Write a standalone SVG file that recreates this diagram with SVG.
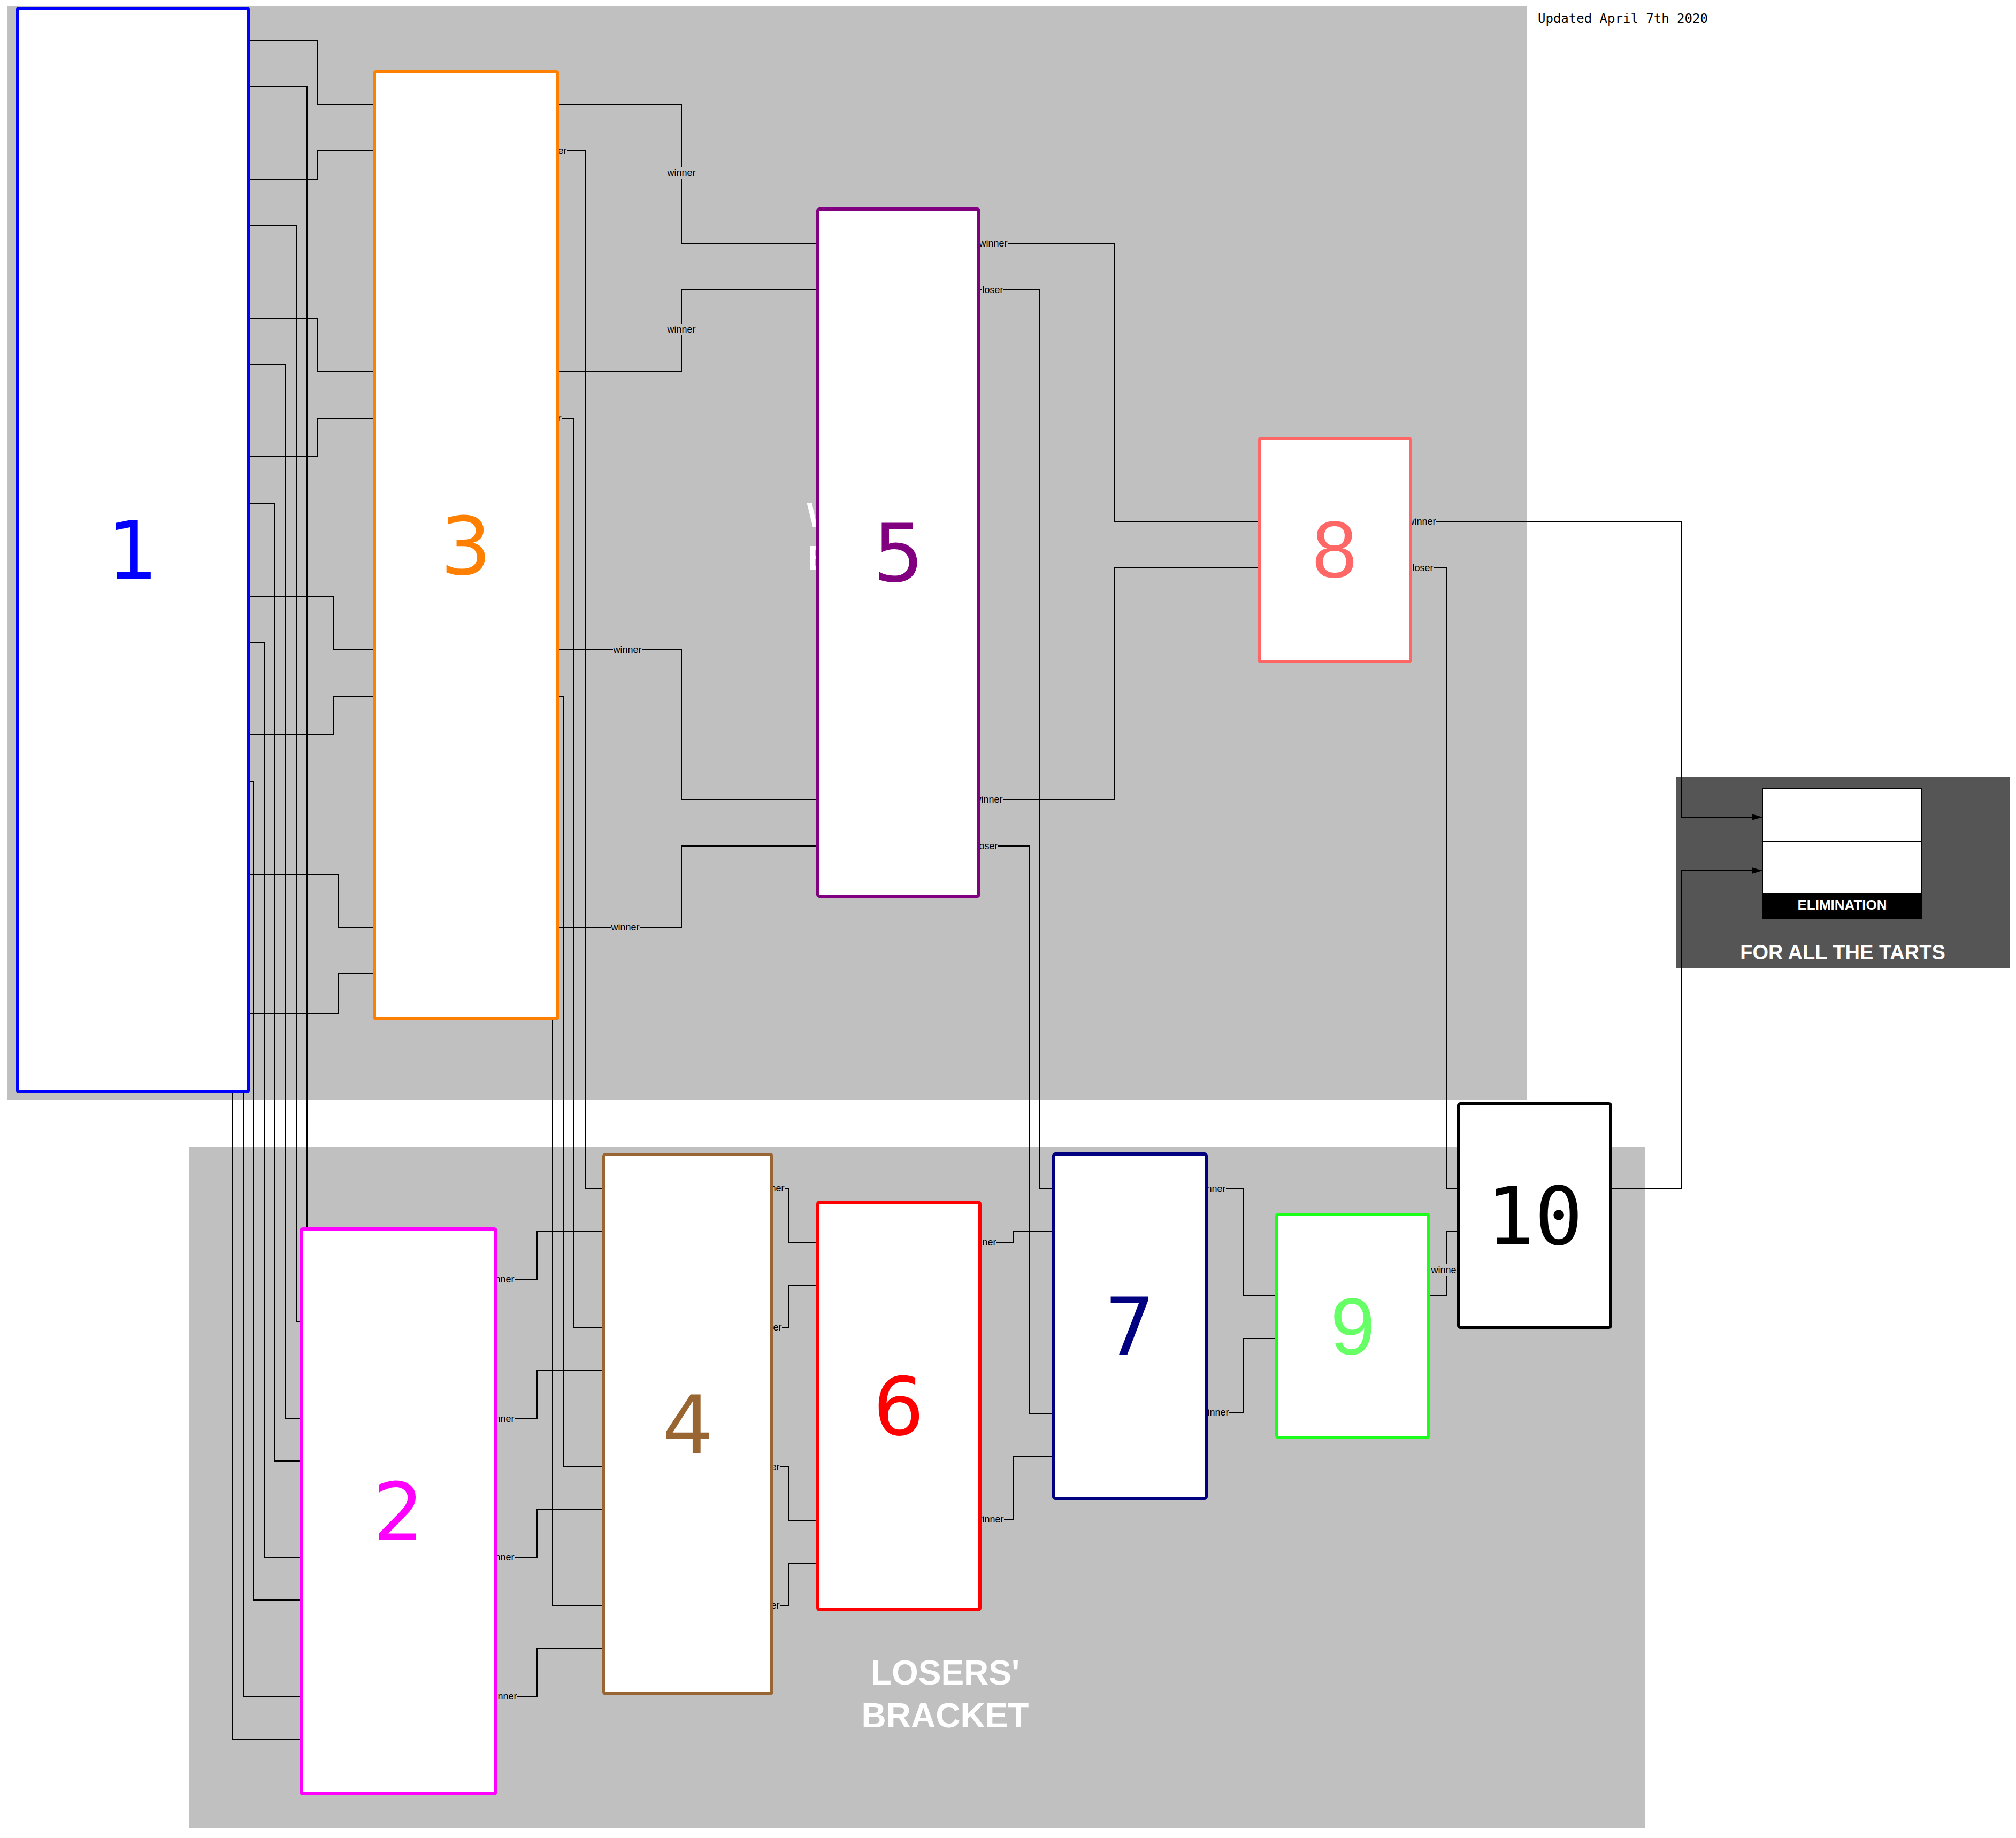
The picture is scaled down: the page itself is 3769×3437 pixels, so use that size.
<svg xmlns="http://www.w3.org/2000/svg" width="3769" height="3437" viewBox="0 0 3769 3437">
<defs>
<style>
.bg{fill:#C0C0C0}
.conn{fill:none;stroke:#000;stroke-width:2}
.lbl{font-family:"Liberation Sans",Arial,sans-serif;font-size:18px;fill:#000;text-anchor:middle}
.lbg{fill:#C0C0C0}
.node{fill:#fff;stroke-width:6}
.num{font-family:"DejaVu Sans",sans-serif;font-size:150px;text-anchor:middle}
.big{font-family:"Liberation Sans",Arial,sans-serif;font-weight:bold;font-size:64px;fill:#fff;text-anchor:middle}
</style>
<marker id="arr" markerUnits="userSpaceOnUse" markerWidth="20" markerHeight="14" refX="20" refY="7" orient="auto">
<path d="M0,1 L20,7 L0,13 Z" fill="#000"/>
</marker>
</defs>
<rect width="3769" height="3437" fill="#fff"/>
<g id="backgrounds">
<rect class="bg" x="14" y="11" width="2841" height="2046"/>
<rect class="bg" x="353" y="2145" width="2722" height="1274"/>
<rect x="3133" y="1453" width="624" height="358" fill="#555555"/>
</g>
<g id="section-titles">
<text class="big" x="1667" y="985">WINNERS'</text>
<text class="big" x="1667" y="1066">BRACKET</text>
<text class="big" x="1767" y="3150">LOSERS'</text>
<text class="big" x="1767" y="3230">BRACKET</text>
</g>
<g id="connectors">
<path class="conn" d="M465,75 H594 V195 H700"/>
<path class="conn" d="M465,335 H594 V282 H700"/>
<path class="conn" d="M465,595 H594 V695 H700"/>
<path class="conn" d="M465,854 H594 V782 H700"/>
<path class="conn" d="M465,1115 H624 V1215 H700"/>
<path class="conn" d="M465,1374 H624 V1302 H700"/>
<path class="conn" d="M465,1635 H633 V1735 H700"/>
<path class="conn" d="M465,1895 H633 V1821 H700"/>
<path class="conn" d="M465,161 H574 V2392 H563"/>
<path class="conn" d="M465,422 H554 V2472 H563"/>
<path class="conn" d="M465,682 H534 V2653 H563"/>
<path class="conn" d="M465,941 H514 V2732 H563"/>
<path class="conn" d="M465,1202 H495 V2912 H563"/>
<path class="conn" d="M465,1462 H474 V2992 H563"/>
<path class="conn" d="M465,1722 H455 V3172 H563"/>
<path class="conn" d="M465,1982 H434 V3252 H563"/>
<path class="conn" d="M1043,195 H1274 V455 H1529"/>
<path class="conn" d="M1043,695 H1274 V542 H1529"/>
<path class="conn" d="M1043,1215 H1274 V1495 H1529"/>
<path class="conn" d="M1043,1735 H1274 V1582 H1529"/>
<path class="conn" d="M1043,282 H1094 V2222 H1129"/>
<path class="conn" d="M1043,782 H1073 V2482 H1129"/>
<path class="conn" d="M1043,1302 H1054 V2742 H1129"/>
<path class="conn" d="M1043,1821 H1033 V3002 H1129"/>
<path class="conn" d="M927,2392 H1004 V2303 H1129"/>
<path class="conn" d="M927,2653 H1004 V2563 H1129"/>
<path class="conn" d="M927,2912 H1004 V2823 H1129"/>
<path class="conn" d="M927,3172 H1004 V3083 H1129"/>
<path class="conn" d="M1443,2222 H1474 V2323 H1529"/>
<path class="conn" d="M1443,2482 H1474 V2404 H1529"/>
<path class="conn" d="M1443,2743 H1474 V2843 H1529"/>
<path class="conn" d="M1443,3002 H1474 V2923 H1529"/>
<path class="conn" d="M1830,455 H2084 V975 H2354"/>
<path class="conn" d="M1830,1495 H2084 V1062 H2354"/>
<path class="conn" d="M1830,542 H1944 V2222 H1970"/>
<path class="conn" d="M1830,1582 H1924 V2643 H1970"/>
<path class="conn" d="M1832,2323 H1894 V2303 H1970"/>
<path class="conn" d="M1832,2841 H1894 V2723 H1970"/>
<path class="conn" d="M2255,2223 H2324 V2423 H2387"/>
<path class="conn" d="M2255,2641 H2324 V2503 H2387"/>
<path class="conn" d="M2637,1062 H2704 V2223 H2727"/>
<path class="conn" d="M2671,2423 H2704 V2303 H2727"/>
<path class="conn" d="M2637,975 H3144 V1528 H3295" marker-end="url(#arr)"/>
<path class="conn" d="M3011,2223 H3144 V1628 H3295" marker-end="url(#arr)"/>
</g>
<g id="connector-labels">
<rect class="lbg" x="1247" y="312" width="54" height="22"/><text class="lbl" x="1274" y="329">winner</text>
<rect class="lbg" x="1247" y="605" width="54" height="22"/><text class="lbl" x="1274" y="622">winner</text>
<rect class="lbg" x="1146" y="1204" width="54" height="22"/><text class="lbl" x="1173" y="1221">winner</text>
<rect class="lbg" x="1142" y="1724" width="54" height="22"/><text class="lbl" x="1169" y="1740">winner</text>
<rect class="lbg" x="1020" y="271" width="40" height="22"/><text class="lbl" x="1040" y="288">loser</text>
<rect class="lbg" x="1010" y="771" width="40" height="22"/><text class="lbl" x="1030" y="788">loser</text>
<rect class="lbg" x="908" y="2381" width="54" height="22"/><text class="lbl" x="935" y="2398">winner</text>
<rect class="lbg" x="908" y="2642" width="54" height="22"/><text class="lbl" x="935" y="2659">winner</text>
<rect class="lbg" x="908" y="2901" width="54" height="22"/><text class="lbl" x="935" y="2918">winner</text>
<rect class="lbg" x="913" y="3161" width="54" height="22"/><text class="lbl" x="940" y="3178">winner</text>
<rect class="lbg" x="1413" y="2211" width="54" height="22"/><text class="lbl" x="1440" y="2228">winner</text>
<rect class="lbg" x="1408" y="2471" width="54" height="22"/><text class="lbl" x="1435" y="2488">winner</text>
<rect class="lbg" x="1404" y="2732" width="54" height="22"/><text class="lbl" x="1431" y="2749">winner</text>
<rect class="lbg" x="1404" y="2991" width="54" height="22"/><text class="lbl" x="1431" y="3008">winner</text>
<rect class="lbg" x="1830" y="444" width="54" height="22"/><text class="lbl" x="1857" y="461">winner</text>
<rect class="lbg" x="1836" y="531" width="40" height="22"/><text class="lbl" x="1856" y="548">loser</text>
<rect class="lbg" x="1821" y="1484" width="54" height="22"/><text class="lbl" x="1848" y="1501">winner</text>
<rect class="lbg" x="1826" y="1571" width="40" height="22"/><text class="lbl" x="1846" y="1588">loser</text>
<rect class="lbg" x="1809" y="2312" width="54" height="22"/><text class="lbl" x="1836" y="2329">winner</text>
<rect class="lbg" x="1823" y="2830" width="54" height="22"/><text class="lbl" x="1850" y="2847">winner</text>
<rect class="lbg" x="2238" y="2212" width="54" height="22"/><text class="lbl" x="2265" y="2229">winner</text>
<rect class="lbg" x="2244" y="2630" width="54" height="22"/><text class="lbl" x="2271" y="2647">winner</text>
<rect class="lbg" x="2631" y="964" width="54" height="22"/><text class="lbl" x="2658" y="981">winner</text>
<rect class="lbg" x="2640" y="1051" width="40" height="22"/><text class="lbl" x="2660" y="1068">loser</text>
<rect class="lbg" x="2675" y="2364" width="54" height="22"/><text class="lbl" x="2702" y="2381">winner</text>
</g>
<g id="node-1"><rect class="node" x="32" y="16" width="433" height="2025" rx="3" stroke="#0000FF"/><text class="num" x="248" y="1082" fill="#0000FF">1</text></g>
<g id="node-3"><rect class="node" x="700" y="134" width="343" height="1771" rx="3" stroke="#FF8000"/><text class="num" x="871" y="1074" fill="#FF8000">3</text></g>
<g id="node-5"><rect class="node" x="1529" y="391" width="301" height="1285" rx="3" stroke="#800080"/><text class="num" x="1680" y="1087" fill="#800080">5</text></g>
<g id="node-8"><rect class="node" x="2354" y="820" width="283" height="417" rx="3" stroke="#FF6666"/><text class="num" x="2495" y="1080" fill="#FF6666" style="font-family:'Liberation Sans',Arial,sans-serif">8</text></g>
<g id="node-2"><rect class="node" x="563" y="2298" width="364" height="1056" rx="3" stroke="#FF00FF"/><text class="num" x="745" y="2880" fill="#FF00FF">2</text></g>
<g id="node-4"><rect class="node" x="1129" y="2159" width="314" height="1008" rx="3" stroke="#996633"/><text class="num" x="1286" y="2717" fill="#996633">4</text></g>
<g id="node-6"><rect class="node" x="1529" y="2248" width="303" height="762" rx="3" stroke="#FF0000"/><text class="num" x="1680" y="2683" fill="#FF0000">6</text></g>
<g id="node-7"><rect class="node" x="1970" y="2158" width="285" height="644" rx="3" stroke="#000080"/><text class="num" x="2112" y="2534" fill="#000080">7</text></g>
<g id="node-9"><rect class="node" x="2387" y="2271" width="284" height="417" rx="3" stroke="#1AFF1A"/><text class="num" x="2529" y="2533" fill="#66FF66" style="font-family:'Liberation Sans',Arial,sans-serif">9</text></g>
<g id="node-10"><rect class="node" x="2727" y="2064" width="284" height="418" rx="3" stroke="#000000"/><text class="num" x="2869" y="2327" fill="#000" style="font-family:'DejaVu Sans Mono',monospace">10</text></g>
<g id="node-elimination">
<rect x="3295" y="1475" width="298" height="98" fill="#fff" stroke="#000" stroke-width="2"/>
<rect x="3295" y="1573" width="298" height="98" fill="#fff" stroke="#000" stroke-width="2"/>
<rect x="3295" y="1671" width="298" height="47" fill="#000"/>
<text x="3444" y="1701" fill="#fff" font-family="Liberation Sans, Arial, sans-serif" font-weight="bold" font-size="26" text-anchor="middle">ELIMINATION</text>
</g>
<text x="3445" y="1794" fill="#fff" font-family="Liberation Sans, Arial, sans-serif" font-weight="bold" font-size="38" text-anchor="middle">FOR ALL THE TARTS</text>
<text x="2875" y="43" fill="#000" font-family="DejaVu Sans Mono, monospace" font-size="24">Updated April 7th 2020</text>
</svg>
